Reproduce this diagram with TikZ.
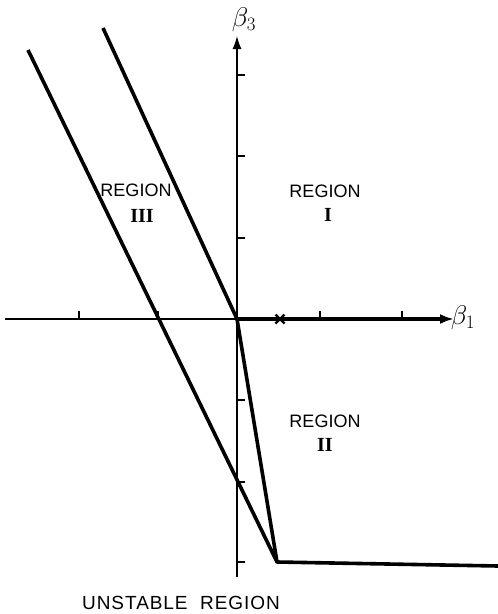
\RequirePackage{fix-cm}
\documentclass[tikz,border=0pt]{standalone}
\usepackage{fontspec}
\setmainfont{Liberation Sans}
\newfontfamily\romfont{Liberation Serif}
\usetikzlibrary{arrows.meta}
\newcommand{\regtext}{{\fontsize{18}{20}\selectfont REGION}}
\newcommand{\romnum}[1]{{\romfont\bfseries\fontsize{20}{20}\selectfont #1}}
\begin{document}
\begin{tikzpicture}[x=1pt,y=-1pt,
  thin axis/.style={line width=1.3pt},
  thick curve/.style={line width=3.6pt, line join=round},
  tickmark/.style={line width=1.2pt},
  lbl/.style={align=center, inner sep=0pt},
  axlbl/.style={inner sep=0pt, font=\fontsize{27}{30}\selectfont}]
\useasboundingbox (0,0) rectangle (498,614);
% axes
\coordinate (O) at (237,319);
\coordinate (xl) at (5,319);
\coordinate (xr) at (454,319);
\coordinate (yb) at (237,577);
\coordinate (yt) at (237,36);
\draw[thin axis] (xl) -- (O);
\draw[thin axis, -{Latex[length=13pt,width=9pt]}] (yb) -- (yt);
\draw[line width=3.2pt, -{Latex[length=14pt,width=10pt]}] (O) -- (xr);
% ticks on horizontal axis
\foreach \x in {79,158,320,402} \draw[tickmark] (\x,319) -- (\x,311);
% ticks on vertical axis
\foreach \y in {75,156,238,400,482,562} \draw[tickmark] (237,\y) -- (245,\y);
% cross marker
\coordinate (xm) at (280,319);
\draw[line width=2.2pt] ([shift={(-4.5,-4.5)}]xm) -- ([shift={(4.5,4.5)}]xm)
  ([shift={(-4.5,4.5)}]xm) -- ([shift={(4.5,-4.5)}]xm);
% lines
\coordinate (A1) at (103,28);
\coordinate (B1) at (28,50);
\coordinate (K) at (277,562);
\coordinate (E) at (498,566);
\draw[thick curve] (A1) -- (O) -- (K);
\draw[thick curve] (B1) -- (K) -- (E);
% labels
\node[axlbl] (b3) at (244,20) {$\beta_{3}$};
\node[axlbl] (b1) at (463,318) {$\beta_{1}$};
\node[lbl] (r1) at (325,191.5) {\regtext};
\node[lbl] (r1n) at (328,215) {\romnum{I}};
\node[lbl] (r3) at (136,190.5) {\regtext};
\node[lbl] (r3n) at (142,215.5) {\romnum{III}};
\node[lbl] (r2) at (325,421.5) {\regtext};
\node[lbl] (r2n) at (325,445) {\romnum{II}};
\node[lbl] (un) at (181,603) {\addfontfeatures{LetterSpace=5}\fontsize{19}{21}\selectfont UNSTABLE\ \ REGION};
\end{tikzpicture}
\end{document}
